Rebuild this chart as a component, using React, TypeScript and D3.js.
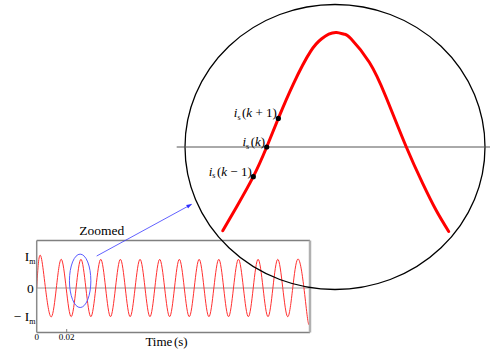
import React from "react";
import * as d3 from "d3";

// Sampled current waveform (seconds, per-unit of Im)
const startTime = 0;
const endTime = 0.1822;
const endValue = -0.7;
const peakTimes = [0.0033, 0.0164, 0.0295, 0.0427, 0.0558, 0.0689, 0.082, 0.0951, 0.1083, 0.1214, 0.1345, 0.1476, 0.1607, 0.1739];
const troughTimes = [0.0099, 0.023, 0.0361, 0.0492, 0.0623, 0.0755, 0.0886, 0.1017, 0.1148, 0.1279, 0.1411, 0.1542, 0.1673, 0.1804];
const xTicks = [0, 0.02];
const xTickLabels = ["0", "0.02"];
const yTicks = [1, 0, -1];

// Enlarged view of one cycle: phase (degrees) and value (per-unit)
const zoomPhase = [-56.7, -38.7, -17.3, 0, 15.0, 34.3, 56.6, 70.9, 80, 90, 100, 108.7, 132.3, 153.8, 180, 201.1, 218.3, 234.7];
const zoomValue = [-0.731, -0.521, -0.259, 0, 0.25, 0.55, 0.835, 0.945, 0.985, 1, 0.985, 0.945, 0.74, 0.437, 0, -0.317, -0.55, -0.738];
const samplePhase = [-17.3, 0, 15.0];
const sampleValue = [-0.259, 0, 0.25];
const sampleOffset = ["\u2212 1", "", "+ 1"];

const W = 490;
const H = 354;
const FONT = "Liberation Serif, DejaVu Serif, Times New Roman, serif";

export default function App() {
  // small chart frame
  const box = { left: 36.7, right: 310, top: 240.5, bottom: 332.5 };
  const xT = d3.scaleLinear().domain([0, endTime]).range([box.left, box.right]);
  const yI = d3.scaleLinear().domain([-1, 1]).range([316.7, 259.3]);

  const wavePts: [number, number][] = [[startTime, 0]];
  peakTimes.forEach((t) => wavePts.push([t, 1]));
  troughTimes.forEach((t) => wavePts.push([t, -1]));
  wavePts.push([endTime, endValue]);
  wavePts.sort((a, b) => a[0] - b[0]);
  const waveLine = d3
    .line<[number, number]>()
    .x((d) => xT(d[0]))
    .y((d) => yI(d[1]))
    .curve(d3.curveNatural);

  // zoomed view
  const xZ = d3.scaleLinear().domain([0, 180]).range([266.7, 406.3]);
  const yZ = d3.scaleLinear().domain([0, 1]).range([147, 32.5]);
  const zoomPts: [number, number][] = zoomPhase.map((p, i) => [p, zoomValue[i]]);
  const zoomLine = d3
    .line<[number, number]>()
    .x((d) => xZ(d[0]))
    .y((d) => yZ(d[1]))
    .curve(d3.curveNatural);

  const lens = { cx: 335, cy: yZ(0), rx: 150, ry: 142.5 };
  const marker = { cx: xT(peakTimes[2]) - 0.8, cy: yI(0.25), rx: 10.7, ry: 26.7 };

  const yLabel = (v: number) => {
    if (v === 0) return <tspan>0</tspan>;
    return (
      <>
        <tspan>{v < 0 ? "\u2212 I" : "I"}</tspan>
        <tspan fontSize={8} dy={3}>m</tspan>
      </>
    );
  };

  return (
    <svg
      width={W}
      height={H}
      style={{ position: "absolute", left: 0, top: 0, display: "block", background: "#fff", fontFamily: FONT }}
    >
      <defs>
        <marker id="arrowHead" viewBox="0 0 10 10" refX="9" refY="5" markerWidth="7" markerHeight="7" orient="auto">
          <path d="M0,1.5 L10,5 L0,8.5 z" fill="#2f2fff" />
        </marker>
      </defs>

      {/* small time-domain chart */}
      <line x1={xT(0)} x2={box.right} y1={yI(0)} y2={yI(0)} stroke="#9a9a9a" strokeWidth={1} />
      <path d={waveLine(wavePts) || ""} fill="none" stroke="#ff3030" strokeWidth={1} />
      <line x1={box.left} x2={box.right} y1={box.top} y2={box.top} stroke="#808080" strokeWidth={1.3} />
      <line x1={box.left} x2={box.right} y1={box.bottom} y2={box.bottom} stroke="#808080" strokeWidth={1.3} />
      <line x1={box.left} x2={box.left} y1={box.top} y2={box.bottom} stroke="#8a8a8a" strokeWidth={1.5} />
      <line x1={box.right} x2={box.right} y1={box.top} y2={box.bottom} stroke="#b0b0b0" strokeWidth={2.5} />

      {xTicks.map((t, i) => (
        <g key={"xt" + i}>
          {t !== 0 && <line x1={xT(t)} x2={xT(t)} y1={box.bottom - 3.5} y2={box.bottom} stroke="#808080" strokeWidth={1} />}
          <text x={xT(t)} y={box.bottom + 7} fontSize={9} textAnchor="middle">
            {xTickLabels[i]}
          </text>
        </g>
      ))}
      {yTicks.map((v, i) => (
        <text key={"yt" + i} x={v === 0 ? 33.8 : 35.5} y={yI(v) + (v === 0 ? 4.6 : v > 0 ? 1.5 : 4)} fontSize={13.5} textAnchor="end">
          {yLabel(v)}
        </text>
      ))}
      <text x={166.5} y={346} fontSize={13} textAnchor="middle">
        Time<tspan dx={1.5}>(s)</tspan>
      </text>

      {/* highlighted cycle and pointer */}
      <ellipse cx={marker.cx} cy={marker.cy} rx={marker.rx} ry={marker.ry} fill="none" stroke="#5a5aff" strokeWidth={1} />
      <line x1={96.7} y1={256} x2={191.5} y2={204.3} stroke="#3a3aff" strokeWidth={0.8} markerEnd="url(#arrowHead)" />
      <text x={101.7} y={235} fontSize={13.5} textAnchor="middle">Zoomed</text>

      {/* zoomed view */}
      <ellipse cx={lens.cx} cy={lens.cy} rx={lens.rx} ry={lens.ry} fill="none" stroke="#000" strokeWidth={1.3} />
      <line x1={176.7} x2={W} y1={yZ(0)} y2={yZ(0)} stroke="#555" strokeWidth={1} />
      <path d={zoomLine(zoomPts) || ""} fill="none" stroke="#ff0000" strokeWidth={3} strokeLinecap="round" />
      {samplePhase.map((p, i) => (
        <g key={"s" + i}>
          <circle cx={xZ(p)} cy={yZ(sampleValue[i])} r={2.6} fill="#000" />
          <text x={xZ(p) - 1.5} y={yZ(sampleValue[i]) - 1} fontSize={13} textAnchor="end">
            <tspan fontStyle="italic">i</tspan>
            <tspan fontSize={8} dy={2.5}>s</tspan>
            <tspan dy={-2.5} dx={1.5}>(</tspan>
            <tspan fontStyle="italic">k</tspan>
            {sampleOffset[i] && <tspan>{" " + sampleOffset[i]}</tspan>}
            <tspan>)</tspan>
          </text>
        </g>
      ))}
    </svg>
  );
}
